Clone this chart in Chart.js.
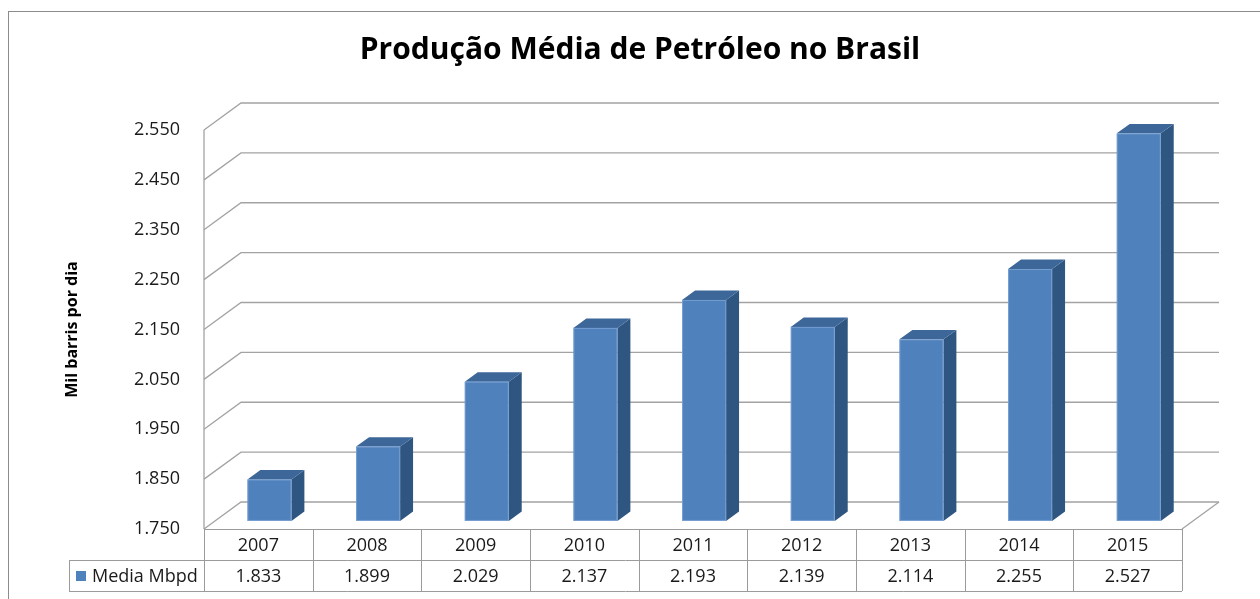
<!DOCTYPE html>
<html>
<head>
<meta charset="utf-8">
<script src="https://cdn.jsdelivr.net/npm/chart.js@4/dist/chart.umd.min.js"></script>
<style>
  body { margin: 0; background: #fff; }
</style>
</head>
<body>
<canvas id="grafico" width="1260" height="599"></canvas>
<script>
const titulo = 'Produção Média de Petróleo no Brasil';
const tituloEixoY = 'Mil barris por dia';
const nomeSerie = 'Media Mbpd';
const anos = ['2007', '2008', '2009', '2010', '2011', '2012', '2013', '2014', '2015'];
const mediaMbpd = [1833, 1899, 2029, 2137, 2193, 2139, 2114, 2255, 2527];
const eixoYMin = 1750;
const eixoYMax = 2550;
const eixoYPasso = 100;

//cores do grafico (estilo Excel)
const corFrente = '#4F81BD';
const corTopo = '#3D6699';
const corLado = '#2F5581';
const corGrade = '#a3a3a3';
const corTabela = '#9b9b9b';
const fonte = '"Open Sans", sans-serif';

//numero no formato brasileiro: 2550 -> 2.550
const formatar = (v) => Math.floor(v / 1000) + '.' + String(Math.round(v % 1000)).padStart(3, '0');

//profundidade do "piso" 3D e posicao das barras dentro dele
const fundoDX = 37, fundoDY = -27;
const barraIni = 0.3, barraFim = 0.65;

const efeito3D = {
  id: 'efeito3D',
  beforeDatasetsDraw(chart) {
    const {ctx, chartArea: area, scales: {y}} = chart;
    ctx.save();
    ctx.strokeStyle = corGrade;
    ctx.lineWidth = 1.3;
    //linhas de grade na parede do fundo + diagonais da parede esquerda
    y.ticks.forEach(t => {
      const py = y.getPixelForValue(t.value);
      ctx.beginPath();
      ctx.moveTo(area.left, py);
      ctx.lineTo(area.left + fundoDX, py + fundoDY);
      ctx.lineTo(area.right + fundoDX, py + fundoDY);
      ctx.stroke();
    });
    //piso: diagonal direita
    ctx.beginPath();
    ctx.moveTo(area.right, area.bottom);
    ctx.lineTo(area.right + fundoDX, area.bottom + fundoDY);
    ctx.stroke();
    //eixo vertical da frente
    ctx.beginPath();
    ctx.moveTo(area.left, area.top);
    ctx.lineTo(area.left, area.bottom);
    ctx.stroke();
    ctx.restore();
  },
  afterDatasetsDraw(chart) {
    const {ctx, chartArea: area, scales: {x, y}} = chart;
    const meta = chart.getDatasetMeta(0);
    const ox = fundoDX * barraIni, oy = fundoDY * barraIni;
    const dx = fundoDX * (barraFim - barraIni), dy = fundoDY * (barraFim - barraIni);
    const base = y.getPixelForValue(eixoYMin);
    ctx.save();
    meta.data.forEach(bar => {
      const w = bar.width;
      const x0 = bar.x - w / 2 + ox, x1 = bar.x + w / 2 + ox;
      const yt = bar.y + oy, yb = base + oy;
      //lado
      ctx.fillStyle = corLado;
      ctx.beginPath();
      ctx.moveTo(x1, yt); ctx.lineTo(x1 + dx, yt + dy);
      ctx.lineTo(x1 + dx, yb + dy); ctx.lineTo(x1, yb);
      ctx.closePath(); ctx.fill();
      //topo
      ctx.fillStyle = corTopo;
      ctx.beginPath();
      ctx.moveTo(x0, yt); ctx.lineTo(x1, yt);
      ctx.lineTo(x1 + dx, yt + dy); ctx.lineTo(x0 + dx, yt + dy);
      ctx.closePath(); ctx.fill();
      //frente
      ctx.fillStyle = corFrente;
      ctx.fillRect(x0, yt, w, yb - yt);
      ctx.strokeStyle = 'rgba(140,175,220,0.6)';
      ctx.lineWidth = 1;
      ctx.strokeRect(x0 + 0.5, yt + 0.5, w - 1, yb - yt - 1);
    });

    //tabela de dados
    const linha1 = area.bottom, linha2 = area.bottom + 31, linha3 = area.bottom + 62;
    const legEsq = 69;
    const passo = (area.right - area.left) / anos.length;
    ctx.strokeStyle = corTabela;
    ctx.lineWidth = 1;
    ctx.beginPath();
    ctx.moveTo(area.left, linha1 + 0.5); ctx.lineTo(area.right, linha1 + 0.5);
    ctx.moveTo(legEsq, linha2 + 0.5); ctx.lineTo(area.right, linha2 + 0.5);
    ctx.moveTo(legEsq, linha3 + 0.5); ctx.lineTo(area.right, linha3 + 0.5);
    ctx.moveTo(legEsq + 0.5, linha2); ctx.lineTo(legEsq + 0.5, linha3);
    for (let i = 0; i <= anos.length; i++) {
      const px = Math.round(area.left + passo * i) + 0.5;
      ctx.moveTo(px, linha1); ctx.lineTo(px, linha3);
    }
    ctx.stroke();

    ctx.fillStyle = '#1a1a1a';
    ctx.font = '18px ' + fonte;
    ctx.textAlign = 'center';
    ctx.textBaseline = 'middle';
    anos.forEach((ano, i) => {
      const cx = x.getPixelForValue(i);
      ctx.fillText(ano, cx, (linha1 + linha2) / 2 + 1);
      ctx.fillText(formatar(mediaMbpd[i]), cx, (linha2 + linha3) / 2 + 1);
    });
    //legenda dentro da tabela
    ctx.fillStyle = corFrente;
    ctx.fillRect(76, linha2 + 11, 10, 10);
    ctx.fillStyle = '#1a1a1a';
    ctx.textAlign = 'left';
    ctx.fillText(nomeSerie, 92, (linha2 + linha3) / 2 + 1);

    //titulo
    ctx.font = 'bold 30px ' + fonte;
    ctx.textAlign = 'center';
    ctx.fillStyle = '#000';
    ctx.fillText(titulo, 640, 50);

    //moldura do grafico
    ctx.strokeStyle = '#8c8c8c';
    ctx.lineWidth = 1;
    ctx.strokeRect(8.5, 11.5, 1400, 800);
    ctx.restore();
  }
};

new Chart(document.getElementById('grafico'), {
  type: 'bar',
  plugins: [efeito3D],
  data: {
    labels: anos,
    datasets: [{
      label: nomeSerie,
      data: mediaMbpd,
      backgroundColor: 'rgba(0,0,0,0)',
      categoryPercentage: 1,
      barPercentage: 0.405
    }]
  },
  options: {
    responsive: false,
    animation: false,
    layout: { padding: { top: 130, right: 78, bottom: 70, left: 0 } },
    plugins: {
      legend: { display: false },
      tooltip: { enabled: false },
      title: { display: false }
    },
    scales: {
      x: { display: false },
      y: {
        min: eixoYMin,
        max: eixoYMax,
        afterFit: (s) => { s.width = 204; },
        grid: { display: false, drawTicks: false },
        border: { display: false },
        ticks: {
          stepSize: eixoYPasso,
          padding: 24,
          color: '#1a1a1a',
          font: { family: fonte, size: 18 },
          callback: (v) => formatar(v)
        },
        title: {
          display: true,
          text: tituloEixoY,
          color: '#000',
          font: { family: fonte, size: 16, weight: 'bold' },
          padding: { top: 63, bottom: 0 }
        }
      }
    }
  }
});
</script>
</body>
</html>
